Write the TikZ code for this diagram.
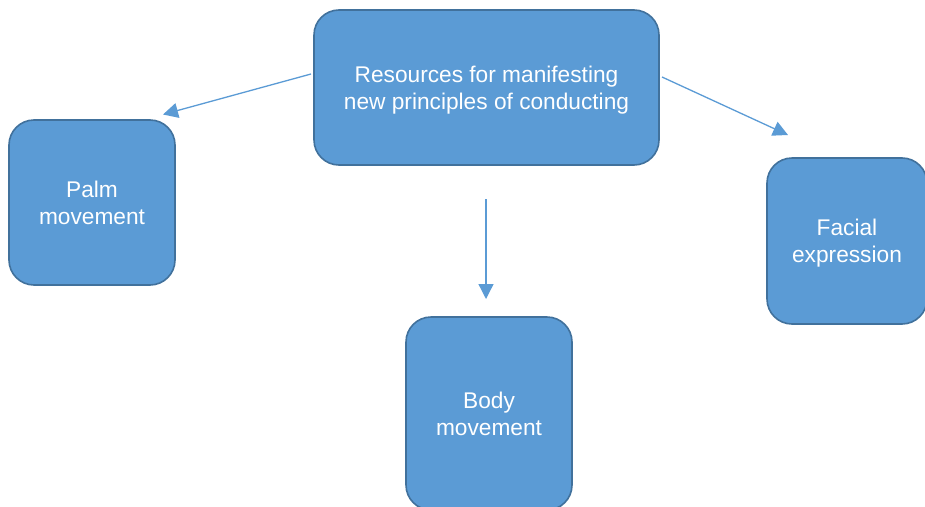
\documentclass[tikz,border=0pt]{standalone}
\usepackage{fontspec}
\setmainfont{Liberation Sans}
\usetikzlibrary{arrows.meta}
\definecolor{boxfill}{HTML}{5B9BD5}
\definecolor{boxline}{HTML}{41719C}
\definecolor{arrowcol}{HTML}{5B9BD5}
\tikzset{
  blockbox/.style={rectangle, rounded corners=25pt, fill=boxfill, draw=boxline,
    line width=1.6pt, text=white, align=center, inner sep=0pt,
    font=\fontsize{22.7}{27}\selectfont},
  link/.style={draw=arrowcol, line width=1.3pt, -{Triangle[length=15pt,width=15pt]}}
}
\begin{document}
\begin{tikzpicture}[x=1pt,y=-1pt]
\useasboundingbox (0,0) rectangle (925,506);
\clip (0,0) rectangle (925,506);
\node[blockbox, minimum width=345pt, minimum height=155pt] (top) at (486.5,87.5)
  {\rule{0pt}{22.5pt}Resources for manifesting\\new principles of conducting};
\node[blockbox, minimum width=166pt, minimum height=165pt] (palm) at (92,202.5)
  {Palm\\movement};
\node[blockbox, minimum width=160pt, minimum height=166pt] (face) at (847,241)
  {\rule{0pt}{20.5pt}Facial\\expression};
\node[blockbox, minimum width=166pt, minimum height=193pt] (body) at (489,413.5)
  {Body\\movement};
\coordinate (l0) at (311,74);
\coordinate (l1) at (163,114.5);
\coordinate (r0) at (662,77);
\coordinate (r1) at (788,135);
\coordinate (d0) at (486,199);
\coordinate (d1) at (486,299);
\draw[link] (l0) -- (l1);
\draw[link] (r0) -- (r1);
\draw[link] (d0) -- (d1);
\end{tikzpicture}
\end{document}
